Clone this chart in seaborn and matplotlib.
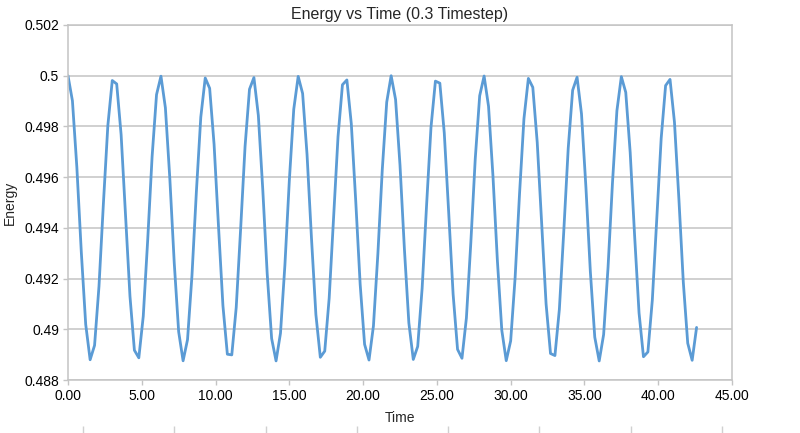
import numpy as np
import pandas as pd
import matplotlib
matplotlib.use("Agg")
import matplotlib.pyplot as plt
import seaborn as sns

# energy values, one per 0.3 timestep
timestep = 0.3
energy = [
    0.500000, 0.499010, 0.496389, 0.493060, 0.490193, 0.488798, 0.489365, 0.491696, 0.494969, 0.498033,
    0.499810, 0.499675, 0.497674, 0.494512, 0.491302, 0.489174, 0.488875, 0.490512, 0.493509, 0.496810,
    0.499254, 0.499981, 0.498736, 0.495956, 0.492619, 0.489901, 0.488757, 0.489590, 0.492107, 0.495422,
    0.498369, 0.499910, 0.499504, 0.497292, 0.494055, 0.490929, 0.489017, 0.488990, 0.490858, 0.493963,
    0.497214, 0.499465, 0.499926, 0.498433, 0.495512, 0.492191, 0.489638, 0.488753, 0.489846, 0.492533,
    0.495868, 0.498678, 0.499973, 0.499299, 0.496892, 0.493599, 0.490579, 0.488895, 0.489140, 0.491226,
    0.494421, 0.497599, 0.499643, 0.499833, 0.498102, 0.495060, 0.491776, 0.489407, 0.488787, 0.490132,
    0.492971, 0.496304, 0.498958, 0.499999, 0.499061, 0.496474, 0.493149, 0.490254, 0.488810, 0.489324,
    0.491616, 0.494878, 0.497963, 0.499786, 0.499705, 0.497747, 0.494604, 0.491379, 0.489209, 0.488857,
    0.490446, 0.493418, 0.496727, 0.499208, 0.499988, 0.498793, 0.496043, 0.492706, 0.489957, 0.488762,
    0.489542, 0.492023, 0.495332, 0.498304, 0.499893, 0.499541, 0.497370, 0.494146, 0.491002, 0.489045,
    0.488964, 0.490787, 0.493872, 0.497135, 0.499426, 0.499940, 0.498495, 0.495601, 0.492275, 0.489688,
    0.488751, 0.489792, 0.492447, 0.495779, 0.498618, 0.499964, 0.499342, 0.496973, 0.493690, 0.490647,
    0.488917, 0.489107, 0.491151, 0.494329, 0.497524, 0.499611, 0.499855, 0.498170, 0.495150, 0.491858,
    0.489451, 0.488777, 0.490073,
]
time = np.round(np.arange(len(energy)) * timestep, 1)

y_ticks = [0.488, 0.490, 0.492, 0.494, 0.496, 0.498, 0.500, 0.502]
y_labels = ["0.488", "0.49", "0.492", "0.494", "0.496", "0.498", "0.5", "0.502"]
x_ticks = [0, 5, 10, 15, 20, 25, 30, 35, 40, 45]
x_labels = ["0.00", "5.00", "10.00", "15.00", "20.00", "25.00", "30.00", "35.00", "40.00", "45.00"]

sns.set_theme(style="white")
plt.rcParams['font.family'] = ['Liberation Sans', 'DejaVu Sans']

df = pd.DataFrame({"Time": time, "Energy": energy})

fig = plt.figure(figsize=(8, 4.33), dpi=100)
ax = fig.add_axes([0.085, 0.1224, 0.83, 0.8199])

grid_col = "#C4C4C4"
sns.lineplot(data=df, x="Time", y="Energy", ax=ax, color="#5B9BD5", linewidth=2.0)

ax.set_xlim(0, 45)
ax.set_ylim(0.488, 0.502)
ax.set_yticks(y_ticks)
ax.set_yticklabels(y_labels, fontsize=10)
ax.set_xticks(x_ticks)
ax.set_xticklabels(x_labels, fontsize=10)
ax.yaxis.grid(True, color=grid_col, linewidth=1.1)
ax.xaxis.grid(False)
ax.set_axisbelow(True)
for s in ax.spines.values():
    s.set_color(grid_col)
    s.set_linewidth(1.1)
ax.tick_params(axis="both", direction="out", length=3.5, width=1.0, color=grid_col,
               labelcolor="black", pad=3, bottom=True, left=True)

ax.set_title("Energy vs Time (0.3 Timestep)", fontsize=11.5, pad=4)
ax.set_xlabel("Time", fontsize=10, labelpad=6)
ax.set_ylabel("Energy", fontsize=10, labelpad=5)

# leftover category ticks along the bottom edge
ax2 = fig.add_axes([83 / 800, 1 - 426 / 433, 639 / 800, 0.0005])
ax2.set_xlim(0, 7)
ax2.set_xticks(range(8))
ax2.set_xticklabels([])
ax2.set_yticks([])
for s in ax2.spines.values():
    s.set_visible(False)
ax2.tick_params(axis="x", direction="out", length=6, width=1.0, color="#D0D0D0", bottom=True)
ax2.patch.set_alpha(0)

fig.savefig("out.png", dpi=100)
